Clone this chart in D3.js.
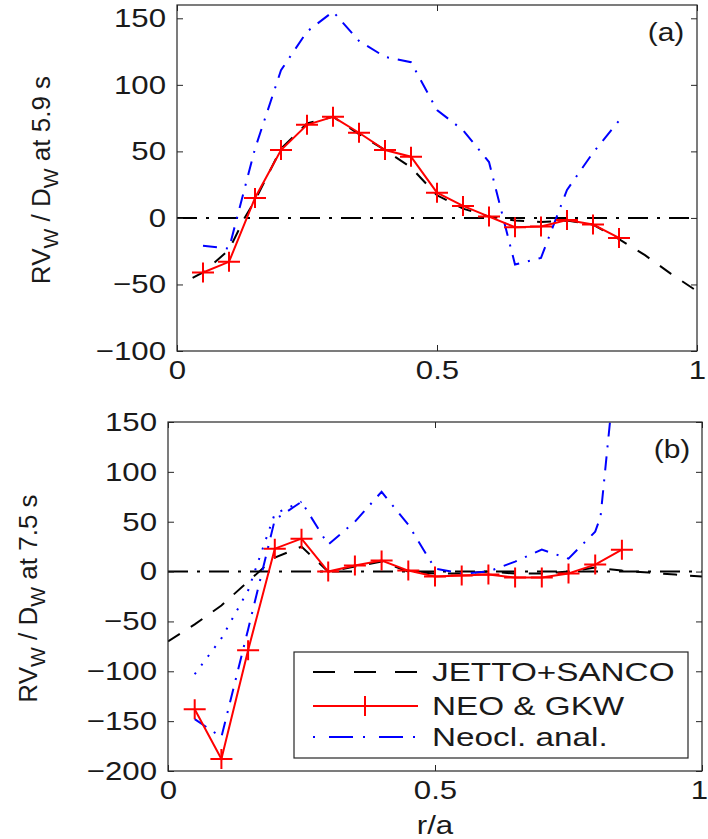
<!DOCTYPE html>
<html><head><meta charset="utf-8">
<script src="https://cdn.jsdelivr.net/npm/d3@7"></script>
<style>
body{margin:0;background:#fff}
svg{display:block;background:#fff}
text{font-family:"Liberation Sans",Arial,Helvetica,sans-serif;fill:#1a1a1a}
</style>
</head><body>
<svg id="c" width="708" height="839"></svg>
<script>
// ---------- tick labels ----------
const xTicks = [0, 0.5, 1];
const xTickLabels = ["0", "0.5", "1"];
const yTicksA = [-100, -50, 0, 50, 100, 150];
const yTicksB = [-200, -150, -100, -50, 0, 50, 100, 150];

// ---------- panel (a), t = 5.9 s ----------
const rA_neo   = [0.05,0.10,0.15,0.20,0.25,0.30,0.35,0.40,0.45,0.50,0.55,0.60,0.65,0.70,0.75,0.80,0.85];
const vA_neo   = [-41,-33,15,51,70,76,64,51,46,19,9,1,-7,-6.5,-1.5,-5,-15];
const rA_jetto = [0.03,0.05,0.10,0.13,0.15,0.20,0.25,0.30,0.35,0.40,0.45,0.50,0.55,0.60,0.65,0.70,0.75,0.80,0.85,0.90,0.95,1.00];
const vA_jetto = [-45,-41,-24,0,13,52,71,76,63,51,38,17,7,1,-2,-3,-2,-5,-16,-28,-42,-55];
const rA_anal  = [0.05,0.10,0.15,0.20,0.25,0.30,0.35,0.40,0.45,0.50,0.55,0.60,0.65,0.70,0.75,0.80,0.85];
const vA_anal  = [-21,-23,52,111,140,155,133,121,117,81,66,42,-35,-30,21,49,73];

// ---------- panel (b), t = 7.5 s ----------
const rB_neo   = [0.05,0.10,0.15,0.20,0.25,0.30,0.35,0.40,0.45,0.50,0.55,0.60,0.65,0.70,0.75,0.80,0.85];
const vB_neo   = [-138,-188,-79,23,33,0,6,11,1,-5,-4,-3,-6,-6,-2,7,22];
const rB_jetto = [0,0.05,0.10,0.15,0.20,0.25,0.30,0.35,0.40,0.45,0.50,0.55,0.60,0.65,0.70,0.75,0.80,0.85,0.90,0.95,1.00];
const vB_jetto = [-70,-53,-34,-10,14,25,0,5,10,0,-2,-2,0,-2,-2,0,4,1,-1,-3,-5];
const rB_anal  = [0.05,0.10,0.15,0.20,0.25,0.30,0.35,0.40,0.45,0.50,0.55,0.60,0.65,0.70,0.75,0.80,0.81,0.85];
const vB_anal  = [-148,-166,-58,52,70,27,50,80,47,3,-2,0,10,22,13,40,55,270];
const rB_analDot = [0.05,0.10,0.15,0.20,0.25];
const vB_analDot = [-103,-67,-19,58,70];

const legendLabels = ["JETTO+SANCO", "NEO & GKW", "Neocl. anal."];

// ---------- styles ----------
const RED = "#ff0000", BLUE = "#0000ff", BLACK = "#000000", AXC = "#262626";
const TICK_FS = 26, SX = 1.2;

const svg = d3.select("#c");
const zip = (xs, ys) => xs.map((x, i) => [x, ys[i]]);

function panel(cfg) {
  const x = d3.scaleLinear().domain([0, 1]).range([cfg.left, cfg.right]);
  const y = d3.scaleLinear().domain(cfg.yDomain).range([cfg.bottom, cfg.top]);
  const clipId = "clip" + cfg.id;
  svg.append("clipPath").attr("id", clipId).append("rect")
    .attr("x", cfg.left).attr("y", cfg.top)
    .attr("width", cfg.right - cfg.left).attr("height", cfg.bottom - cfg.top);

  const plot = svg.append("g").attr("clip-path", `url(#${clipId})`);
  const line = d3.line().x(d => x(d[0])).y(d => y(d[1]));

  // zero reference line
  plot.append("path").datum([[0, 0], [1, 0]]).attr("d", line)
    .attr("fill", "none").attr("stroke", BLACK).attr("stroke-width", 2)
    .attr("stroke-dasharray", "20,9,3,9");

  // JETTO+SANCO
  plot.append("path").datum(zip(cfg.rJ, cfg.vJ)).attr("d", line)
    .attr("fill", "none").attr("stroke", BLACK).attr("stroke-width", 2)
    .attr("stroke-dasharray", "14,13");

  // Neocl. anal.
  plot.append("path").datum(zip(cfg.rA, cfg.vA)).attr("d", line)
    .attr("fill", "none").attr("stroke", BLUE).attr("stroke-width", 2)
    .attr("stroke-dasharray", "14,9,2,9");
  if (cfg.rD) {
    plot.append("path").datum(zip(cfg.rD, cfg.vD)).attr("d", line)
      .attr("fill", "none").attr("stroke", BLUE).attr("stroke-width", 2)
      .attr("stroke-dasharray", "2,9");
  }

  // NEO & GKW
  const neo = zip(cfg.rN, cfg.vN);
  plot.append("path").datum(neo).attr("d", line)
    .attr("fill", "none").attr("stroke", RED).attr("stroke-width", 2);
  plot.selectAll(".pm" + cfg.id).data(neo).join("path")
    .attr("d", d => `M${x(d[0]) - 11},${y(d[1])}h22M${x(d[0])},${y(d[1]) - 10}v20`)
    .attr("stroke", RED).attr("stroke-width", 2).attr("fill", "none");

  // axes (ticks inside, box on)
  const fmtY = d => d < 0 ? "\u2212" + Math.abs(d) : String(d);
  const gl = svg.append("g").attr("transform", `translate(${cfg.left},0)`)
    .call(d3.axisLeft(y).tickValues(cfg.yTicks).tickFormat(fmtY).tickSize(-6).tickSizeOuter(0).tickPadding(cfg.yPad));
  const gr = svg.append("g").attr("transform", `translate(${cfg.right},0)`)
    .call(d3.axisRight(y).tickValues(cfg.yTicks).tickFormat("").tickSize(-6).tickSizeOuter(0));
  const gb = svg.append("g").attr("transform", `translate(0,${cfg.bottom})`)
    .call(d3.axisBottom(x).tickValues(xTicks).tickFormat((d, i) => xTickLabels[i]).tickSize(-6).tickSizeOuter(0).tickPadding(cfg.xPad));
  const gt = svg.append("g").attr("transform", `translate(0,${cfg.top})`)
    .call(d3.axisTop(x).tickValues(xTicks).tickFormat("").tickSize(-6).tickSizeOuter(0));
  [gl, gr, gb, gt].forEach(g => {
    g.select(".domain").remove();
    g.selectAll("line").attr("stroke", AXC).attr("stroke-width", 1);
    g.attr("font-size", TICK_FS).attr("font-family", null);
    g.selectAll("text").attr("fill", "#1a1a1a");
  });
  gl.selectAll("text").attr("x", -cfg.yPad / SX).attr("transform", `scale(${SX},1)`);
  gb.selectAll("text").attr("transform", `scale(${SX},1)`)
    .attr("x", (d, i) => i === xTicks.length - 1 ? cfg.lastDx / SX : 0);

  svg.append("rect").attr("x", cfg.left).attr("y", cfg.top)
    .attr("width", cfg.right - cfg.left).attr("height", cfg.bottom - cfg.top)
    .attr("fill", "none").attr("stroke", AXC).attr("stroke-width", 1.2);

  // panel tag
  svg.append("text").attr("text-anchor", "middle").attr("font-size", 25)
    .attr("transform", `translate(${cfg.tagX},${cfg.tagY}) scale(${SX},1)`).text(cfg.tag);

  // y label
  const yl = svg.append("text").attr("text-anchor", "middle").attr("font-size", 26)
    .attr("transform", `translate(${cfg.ylX},${(cfg.top + cfg.bottom) / 2 + cfg.ylDy}) rotate(-90)`);
  yl.append("tspan").text("RV");
  yl.append("tspan").attr("dy", 8).attr("font-size", 21).text("W");
  yl.append("tspan").attr("dy", -8).text(" / D");
  yl.append("tspan").attr("dy", 8).attr("font-size", 21).text("W");
  yl.append("tspan").attr("dy", -8).text(" at " + cfg.time + " s");
  return {x, y};
}

panel({id: "a", left: 177, right: 697, top: 5, bottom: 351, yDomain: [-100, 160], yTicks: yTicksA,
  rN: rA_neo, vN: vA_neo, rJ: rA_jetto, vJ: vA_jetto, rA: rA_anal, vA: vA_anal,
  yPad: 11, xPad: 10, lastDx: 0, tag: "(a)", tagX: 666, tagY: 41, ylX: 50, ylDy: 2, time: "5.9"});

const pb = panel({id: "b", left: 168, right: 702, top: 422, bottom: 771, yDomain: [-200, 150], yTicks: yTicksB,
  rN: rB_neo, vN: vB_neo, rJ: rB_jetto, vJ: vB_jetto, rA: rB_anal, vA: vB_anal, rD: rB_analDot, vD: vB_analDot,
  yPad: 11, xPad: 10, lastDx: -3, tag: "(b)", tagX: 672, tagY: 458, ylX: 37, ylDy: 2, time: "7.5"});

// x label
svg.append("text").attr("text-anchor", "middle").attr("font-size", 26)
  .attr("transform", `translate(${pb.x(0.5)},834) scale(${SX},1)`).text("r/a");

// legend
const lg = svg.append("g");
lg.append("rect").attr("x", 294).attr("y", 652).attr("width", 394).attr("height", 106)
  .attr("fill", "#fff").attr("stroke", AXC).attr("stroke-width", 1.2);
const rowsY = [672, 706, 737];
const styles = [
  {stroke: BLACK, dash: "22,19", marker: false},
  {stroke: RED, dash: null, marker: true},
  {stroke: BLUE, dash: "2,14,24,10", marker: false}
];
legendLabels.forEach((lab, i) => {
  const yy = rowsY[i], st = styles[i];
  lg.append("line").attr("x1", 313).attr("x2", 418).attr("y1", yy).attr("y2", yy)
    .attr("stroke", st.stroke).attr("stroke-width", 2).attr("stroke-dasharray", st.dash);
  if (st.marker) lg.append("path").attr("d", `M354,${yy}h22M365,${yy - 10}v20`)
    .attr("stroke", RED).attr("stroke-width", 2);
  lg.append("text").attr("font-size", 26)
    .attr("transform", `translate(432,${yy + 9}) scale(1.28,1)`).text(lab);
});
</script>
</body></html>
